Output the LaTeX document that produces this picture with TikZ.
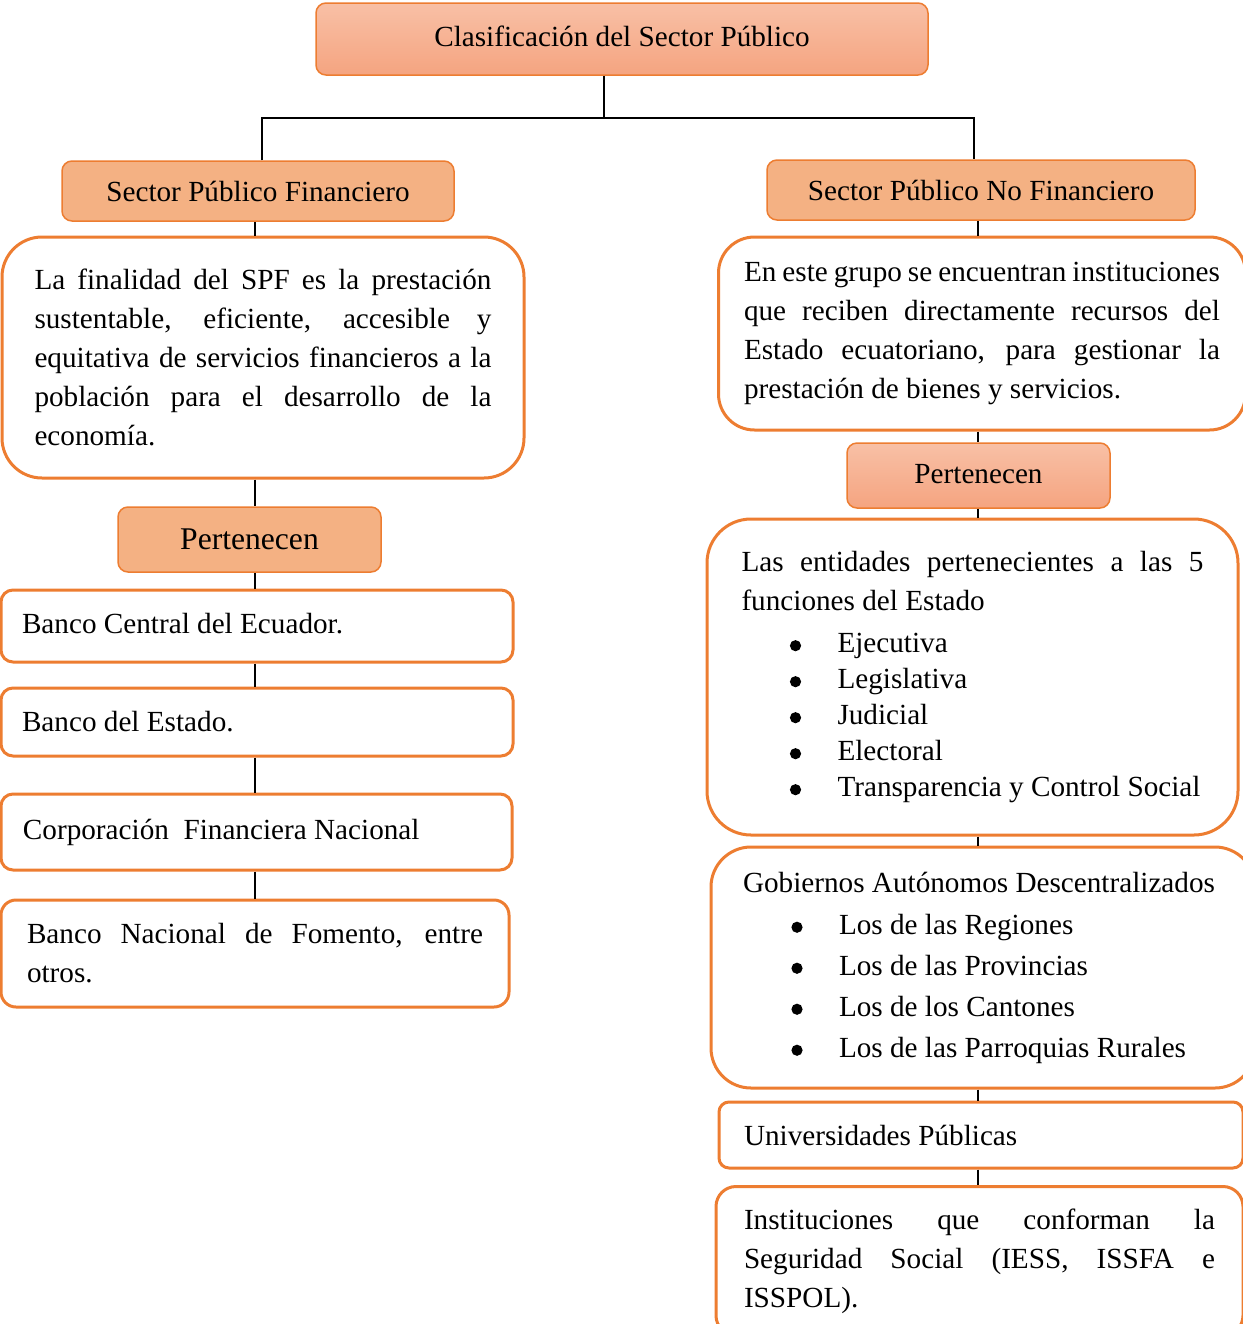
\documentclass[tikz,border=0pt]{standalone}
\usepackage{fontspec}
\setmainfont{Liberation Serif}
\usetikzlibrary{positioning}
\definecolor{naranja}{RGB}{237,125,49}
\definecolor{salmon}{RGB}{244,177,131}
\definecolor{salmonclaro}{RGB}{248,192,166}
\definecolor{salmonoscuro}{RGB}{245,164,128}
\newcommand{\punto}{\tikz[baseline={(0pt,-3.4pt)}]\fill (0pt,0pt) circle (2.8pt);}
\newcommand{\vineta}[1]{\hspace*{24.2pt}\makebox[23.8pt][l]{\punto}#1}

\begin{document}
\begin{tikzpicture}[x=0.5pt,y=-0.5pt]
\tikzset{texto/.style={font=\fontsize{14.6}{19.5}\selectfont, inner ysep=0pt},
		titulo/.style={texto, draw=naranja, line width=0.75pt, rounded corners=5pt, align=center},
		plano/.style={titulo, fill=salmon},
		degradado/.style={titulo, top color=salmonclaro, bottom color=salmonoscuro},
		caja/.style={texto, draw=naranja, line width=1.5pt, fill=white, align=justify},
		linea/.style={caja, align=flush left},
		enlace/.style={line width=0.6pt}}
\useasboundingbox (0,0) rectangle (1243,1324);
				% cabecera
				\node[degradado, minimum width=306pt, minimum height=36pt] (cls) at (622,39) {\raisebox{3pt}{Clasificaci\'on del Sector P\'ublico}};
				\node[plano, minimum width=196pt, minimum height=30pt] (spf) at (258,191) {Sector P\'ublico Financiero};
				\node[plano, minimum width=214pt, minimum height=30pt] (spnf) at (981,190) {Sector P\'ublico No Financiero};
				% columna izquierda
				\node[caja, rounded corners=20pt, text width=228.5pt, inner xsep=16.25pt, minimum height=120.5pt] (spftxt) at (263,357.5)
					{La finalidad del SPF es la prestaci\'on\linebreak sustentable, eficiente, accesible y\linebreak equitativa de servicios financieros a la\linebreak poblaci\'on para el desarrollo de la\linebreak econom\'ia.};
				\node[plano, minimum width=131.5pt, minimum height=32.5pt, font=\fontsize{15.8}{19}\selectfont] (pertl) at (249.5,539.5) {Pertenecen};
				\node[linea, rounded corners=6pt, text width=235pt, inner xsep=10.5pt, minimum height=36pt] (bce) at (257,626) {\raisebox{2.5pt}{Banco Central del Ecuador.}};
				\node[linea, rounded corners=6pt, text width=235pt, inner xsep=10.5pt, minimum height=34pt] (bde) at (257,722) {\raisebox{1pt}{Banco del Estado.}};
				\node[linea, rounded corners=6pt, text width=233.5pt, inner xsep=11pt, minimum height=38pt] (cfn) at (256.5,832) {\raisebox{3pt}{Corporaci\'on\ \ Financiera Nacional}};
				\node[caja, rounded corners=7.5pt, text width=228pt, inner xsep=13pt, minimum height=53.5pt] (bnf) at (255,953.5)
					{Banco Nacional de Fomento, entre\linebreak otros.};
				% columna derecha
				\node[caja, rounded corners=18pt, text width=238pt, inner xsep=12.75pt, minimum height=96.5pt] (spnftxt) at (982,333.5)
					{En este grupo se encuentran instituciones\linebreak que reciben directamente recursos del\linebreak Estado ecuatoriano, para gestionar la\linebreak prestaci\'on de bienes y servicios.};
				\node[degradado, minimum width=131.5pt, minimum height=32.5pt] (pertr) at (978.5,475.5) {\raisebox{1.5pt}{Pertenecen}};
				\node[caja, rounded corners=22pt, text width=231pt, inner xsep=17.25pt, minimum height=158pt] (fun) at (972.5,677)
					{Las entidades pertenecientes a las 5\linebreak funciones del Estado\\[1.5pt]
					\vineta{Ejecutiva}\\[-1.5pt]
					\vineta{Legislativa}\\[-1.5pt]
					\vineta{Judicial}\\[-1.5pt]
					\vineta{Electoral}\\[-1.5pt]
					\vineta{Transparencia y Control Social}};
				\node[linea, rounded corners=20pt, text width=240pt, inner xsep=16pt, minimum height=120.5pt] (gad) at (983,967.5)
					{Gobiernos Aut\'onomos Descentralizados\\[1.5pt]
					\vineta{Los de las Regiones}\\[1pt]
					\vineta{Los de las Provincias}\\[1pt]
					\vineta{Los de los Cantones}\\[1pt]
					\vineta{Los de las Parroquias Rurales}};
				\node[linea, rounded corners=5pt, text width=237pt, inner xsep=12.5pt, minimum height=33pt] (uni) at (981,1135) {Universidades P\'ublicas};
				\node[caja, rounded corners=10pt, text width=235.5pt, inner xsep=14pt, minimum height=74.5pt] (iss) at (979.5,1261)
					{Instituciones que conforman la\linebreak Seguridad Social (IESS, ISSFA e\linebreak ISSPOL).};
				% conectores
				\coordinate (split) at (604,118);
				\coordinate (jl) at (262,118);
				\coordinate (jr) at (974,118);
				\coordinate (lc) at (255,0);
				\coordinate (rc) at (978,0);
				\draw[enlace] (split |- cls.south) -- (split);
				\draw[enlace] (jl |- spf.north) -- (jl) -- (jr) -- (jr |- spnf.north);
				\foreach \a/\b in {spf/spftxt, spftxt/pertl, pertl/bce, bce/bde, bde/cfn, cfn/bnf}
					\draw[enlace] (lc |- \a.south) -- (lc |- \b.north);
				\foreach \a/\b in {spnf/spnftxt, spnftxt/pertr, pertr/fun, fun/gad, gad/uni, uni/iss}
					\draw[enlace] (rc |- \a.south) -- (rc |- \b.north);
\end{tikzpicture}
\end{document}
